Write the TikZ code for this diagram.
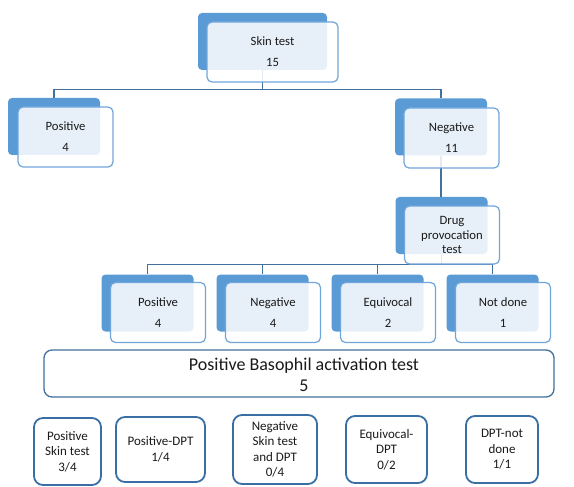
\documentclass[tikz,border=0pt]{standalone}
\usepackage{fontspec}
\setmainfont{Carlito}
\pgfdeclarelayer{background}
\pgfsetlayers{background,main}
\definecolor{backblue}{HTML}{5B9BD5}
\definecolor{frontline}{HTML}{6FA5DB}
\definecolor{conn}{HTML}{41719C}
\definecolor{boxline}{HTML}{3A6FA6}
\definecolor{txt}{HTML}{1A1A1A}
\begin{document}
\begin{tikzpicture}[x=1pt,y=-1pt,
  backbox/.style={fill=backblue,rounded corners=4pt,inner sep=0pt,minimum width=92pt,minimum height=57pt},
  frontbox/.style={fill=white,fill opacity=0.86,text opacity=1,draw=frontline,line width=1.2pt,rounded corners=5pt,inner sep=0pt,minimum width=95pt,minimum height=60pt,align=center,text=txt,font=\fontsize{12.7}{15}\selectfont},
  link/.style={draw=conn,line width=1.3pt},
  widebox/.style={draw=conn,line width=1.3pt,fill=white,rounded corners=8pt,inner sep=0pt,minimum width=510pt,minimum height=47pt},
  widetext/.style={align=center,text=txt,font=\fontsize{18}{21}\selectfont,inner sep=0pt},
  resbox/.style={draw=boxline,line width=1.8pt,fill=white,rounded corners=9pt,inner sep=0pt,align=center,text=txt,font=\fontsize{13}{15.5}\selectfont}]
\useasboundingbox (0,0) rectangle (574,487);
% back boxes
\node[backbox,minimum width=129pt] (skinB) at (262.5,41.5) {};
\node[backbox] (posB) at (54,126.5) {};
\node[backbox] (negB) at (441,127) {};
\node[backbox] (dptB) at (441.5,225.5) {};
\node[backbox] (rposB) at (147.5,303) {};
\node[backbox] (rnegB) at (262.5,303) {};
\node[backbox] (requB) at (377.5,303) {};
\node[backbox] (rndB) at (492.5,303) {};
% front boxes
\node[frontbox,minimum width=131pt] (skin) at (272.5,52) {Skin test\\[6pt]15};
\node[frontbox] (pos) at (65.5,137) {Positive\\[6pt]4};
\node[frontbox] (neg) at (451.5,138) {Negative\\[6pt]11};
\node[frontbox,minimum height=58pt,font=\fontsize{12.7}{14.5}\selectfont] (dpt) at (452,235) {Drug\\provocation\\test};
\node[frontbox] (rpos) at (158,312.5) {Positive\\[6pt]4};
\node[frontbox] (rneg) at (273,312.5) {Negative\\[6pt]4};
\node[frontbox] (requ) at (388,312.5) {Equivocal\\[6pt]2};
\node[frontbox] (rnd) at (503,312.5) {Not done\\[6pt]1};
% connectors
\begin{pgfonlayer}{background}
\draw[link] (skinB.south) -- ++(0,19) coordinate (j1) -| (posB.north);
\draw[link] (j1) -| (negB.north);
\draw[link] (negB.south) -- (dptB.north -| negB.south);
\draw[link] (dptB.south) -- ++(0,10) coordinate (j2) -| (rposB.north);
\draw[link] (j2) -| (rnegB.north);
\draw[link] (j2) -| (requB.north);
\draw[link] (j2) -| (rndB.north);
\end{pgfonlayer}
% wide box
\node[widebox] (bat) at (299,373.5) {};
\node[widetext] (battext) at (304,375) {Positive Basophil activation test\\5};
% result boxes
\node[resbox,minimum width=67pt,minimum height=67pt] (r1) at (67.5,451.5) {Positive\\Skin test\\3/4};
\node[resbox,minimum width=89pt,minimum height=65pt] (r2) at (160.5,449.5) {Positive-DPT\\1/4};
\node[resbox,minimum width=84pt,minimum height=69pt] (r3) at (275,449.5) {Negative\\Skin test\\and DPT\\0/4};
\node[resbox,minimum width=81pt,minimum height=67pt] (r4) at (386.5,449.5) {Equivocal-\\DPT\\0/2};
\node[resbox,minimum width=72pt,minimum height=67pt] (r5) at (502,449.5) {DPT-not\\done\\1/1};
\end{tikzpicture}
\end{document}
